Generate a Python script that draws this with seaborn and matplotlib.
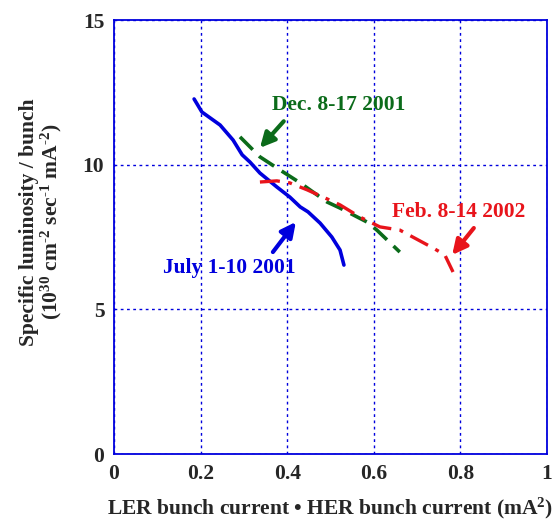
import matplotlib
matplotlib.use("Agg")
import matplotlib.pyplot as plt
import seaborn as sns

# Data
july_x = [0.185, 0.203, 0.245, 0.275, 0.296, 0.314, 0.337, 0.376, 0.406, 0.430, 0.448, 0.476, 0.503, 0.522, 0.531]
july_y = [12.27, 11.82, 11.37, 10.85, 10.34, 10.09, 9.71, 9.23, 8.88, 8.54, 8.37, 7.98, 7.50, 7.05, 6.53]

dec_x = [0.291, 0.337, 0.383, 0.430, 0.492, 0.522, 0.584, 0.607, 0.660]
dec_y = [10.96, 10.27, 9.82, 9.37, 8.71, 8.50, 8.02, 7.74, 6.98]

feb_x = [0.337, 0.376, 0.406, 0.446, 0.483, 0.522, 0.568, 0.614, 0.660, 0.737, 0.764, 0.783]
feb_y = [9.40, 9.44, 9.37, 9.13, 8.88, 8.61, 8.19, 7.85, 7.74, 7.12, 6.88, 6.29]

x_ticks = [0, 0.2, 0.4, 0.6, 0.8, 1]
x_tick_labels = ["0", "0.2", "0.4", "0.6", "0.8", "1"]
y_ticks = [0, 5, 10, 15]
y_tick_labels = ["0", "5", "10", "15"]

sns.set_style("white")
plt.rcParams['font.family'] = ['Liberation Serif', 'DejaVu Serif']
plt.rcParams['font.weight'] = 'bold'
plt.rcParams['mathtext.fontset'] = 'custom'
plt.rcParams['mathtext.rm'] = 'Liberation Serif:bold'
plt.rcParams['mathtext.bf'] = 'Liberation Serif:bold'
plt.rcParams['mathtext.it'] = 'Liberation Serif:bold'
plt.rcParams['mathtext.default'] = 'bf'

FS = 15.5

fig = plt.figure(figsize=(5.57, 5.23), dpi=100)
ax = fig.add_axes([114/557, 69/523, 433/557, 434/523])

BLUE = "#0000dd"
GREEN = "#0b6b1a"
RED = "#e8141b"

sns.lineplot(x=july_x, y=july_y, sort=False, estimator=None, ax=ax,
             color=BLUE, lw=2.6)
sns.lineplot(x=dec_x, y=dec_y, sort=False, estimator=None, ax=ax,
             color=GREEN, lw=2.6)
sns.lineplot(x=feb_x, y=feb_y, sort=False, estimator=None, ax=ax,
             color=RED, lw=2.4)
ax.lines[1].set_dashes([5, 2.5])
ax.lines[2].set_dashes([6, 2.5, 1.2, 2.5])

ax.set_xlim(0, 1)
ax.set_ylim(0, 15)
ax.set_xticks(x_ticks)
ax.set_xticklabels(x_tick_labels)
ax.set_yticks(y_ticks)
ax.set_yticklabels(y_tick_labels)
ax.tick_params(axis='both', direction='in', length=4, color=BLUE, width=1,
               labelsize=FS, pad=7)
for lab in ax.get_xticklabels() + ax.get_yticklabels():
    lab.set_fontweight('bold')

ax.grid(True, color=BLUE, linestyle=(0, (2, 2.5)), linewidth=1)
for sp in ax.spines.values():
    sp.set_color(BLUE)
    sp.set_linewidth(1.3)
    sp.set_visible(True)

ax.set_xlabel("LER bunch current \u2022 HER bunch current (mA$^{2}$)",
              fontsize=FS, fontweight='bold', labelpad=9)
ax.set_ylabel("Specific luminosity / bunch\n(10$^{30}$ cm$^{\\text{-}2}$ sec$^{\\text{-}1}$ mA$^{\\text{-}2}$)",
              fontsize=FS, fontweight='bold', linespacing=1.0)
ax.yaxis.set_label_coords(-0.115, 0.535)

arrow_kw = dict(arrowstyle='-|>', lw=3, mutation_scale=22, shrinkA=0, shrinkB=0)

# Annotations
ax.text(0.365, 12.06, "Dec. 8-17 2001", color=GREEN, fontsize=FS,
        fontweight='bold', va='center', ha='left')
ax.annotate("", xy=(0.337, 10.58), xytext=(0.392, 11.50),
            arrowprops=dict(color=GREEN, **arrow_kw))

ax.text(0.113, 6.43, "July 1-10 2001", color=BLUE, fontsize=FS,
        fontweight='bold', va='center', ha='left')
ax.annotate("", xy=(0.420, 8.02), xytext=(0.367, 6.98),
            arrowprops=dict(color=BLUE, **arrow_kw))

ax.text(0.642, 8.37, "Feb. 8-14 2002", color=RED, fontsize=FS,
        fontweight='bold', va='center', ha='left')
ax.annotate("", xy=(0.781, 6.88), xytext=(0.831, 7.81),
            arrowprops=dict(color=RED, **arrow_kw))

fig.savefig("out.png", dpi=100)
